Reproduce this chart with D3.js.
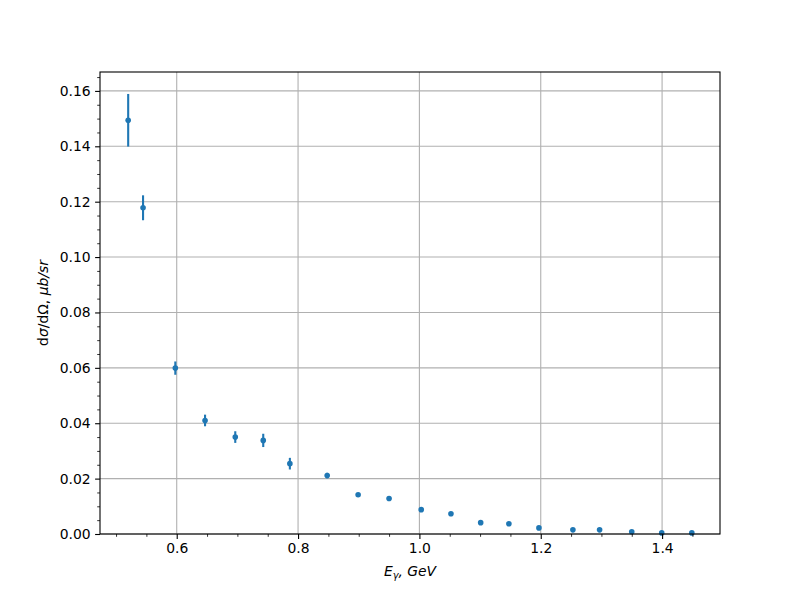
<!DOCTYPE html>
<html>
<head>
<meta charset="utf-8">
<script src="https://cdn.jsdelivr.net/npm/d3@7"></script>
<style>
  html, body { margin: 0; padding: 0; background: #fff; }
  text { font-family: "DejaVu Sans", sans-serif; }
</style>
</head>
<body>
<svg id="chart" width="800" height="600"></svg>
<script>
// Data
const energies = [0.520, 0.5445, 0.5977, 0.6467, 0.6965, 0.7426, 0.7865, 0.848, 0.899, 0.950,
                  1.003, 1.052, 1.101, 1.1475, 1.197, 1.253, 1.297, 1.350, 1.3994, 1.449];
const crossSections = [0.1494, 0.1178, 0.0599, 0.0410, 0.0350, 0.0338, 0.0254, 0.0211, 0.0142, 0.0128,
                       0.0088, 0.0073, 0.0041, 0.0037, 0.0022, 0.0015, 0.0015, 0.0008, 0.0004, 0.0004];
const errors = [0.0095, 0.0045, 0.0024, 0.0021, 0.0021, 0.0024, 0.0021, 0.0010, 0.0006, 0.0005,
                0.0005, 0.0004, 0.0003, 0.0003, 0.0002, 0.0002, 0.0002, 0.0001, 0.0001, 0.0001];
const xTicks = [0.6, 0.8, 1.0, 1.2, 1.4];
const xTickLabels = ["0.6", "0.8", "1.0", "1.2", "1.4"];
const yTicks = [0.00, 0.02, 0.04, 0.06, 0.08, 0.10, 0.12, 0.14, 0.16];
const yTickLabels = ["0.00", "0.02", "0.04", "0.06", "0.08", "0.10", "0.12", "0.14", "0.16"];

const data = energies.map((e, i) => ({x: e, y: crossSections[i], err: errors[i]}));

const svg = d3.select("#chart");
const L = 100, R = 720, T = 72, B = 534;
const color = "#1f77b4";

const xMin = d3.min(energies), xMax = d3.max(energies);
const xPad = (xMax - xMin) * 0.05;
const x = d3.scaleLinear().domain([xMin - xPad, xMax + xPad]).range([L, R]);
const yTop = d3.max(data, d => d.y + d.err);
const yBot = d3.min(data, d => d.y - d.err);
const y = d3.scaleLinear().domain([0, yTop + (yTop - yBot) * 0.05]).range([B, T]);

// grid
const grid = svg.append("g");
grid.selectAll("line.gx").data(xTicks).enter().append("line")
  .attr("x1", d => x(d)).attr("x2", d => x(d)).attr("y1", T).attr("y2", B)
  .attr("stroke", "#b0b0b0").attr("stroke-width", 1.1);
grid.selectAll("line.gy").data(yTicks).enter().append("line")
  .attr("x1", L).attr("x2", R).attr("y1", d => y(d)).attr("y2", d => y(d))
  .attr("stroke", "#b0b0b0").attr("stroke-width", 1.1);

// error bars
svg.append("g").selectAll("line").data(data).enter().append("line")
  .attr("x1", d => x(d.x)).attr("x2", d => x(d.x))
  .attr("y1", d => y(d.y - d.err)).attr("y2", d => y(d.y + d.err))
  .attr("stroke", color).attr("stroke-width", 2.1);

// points
svg.append("g").selectAll("circle").data(data).enter().append("circle")
  .attr("cx", d => x(d.x)).attr("cy", d => y(d.y)).attr("r", 2.8)
  .attr("fill", color);

// axes
const xMinor = d3.range(0.5, 1.5, 0.05).filter(v => xTicks.every(t => Math.abs(t - v) > 1e-6));
const yMinor = d3.range(0, 0.1675, 0.005).filter(v => yTicks.every(t => Math.abs(t - v) > 1e-6));

const xAxis = d3.axisBottom(x).tickValues(xTicks).tickFormat((d, i) => xTickLabels[i])
  .tickSizeInner(4.9).tickSizeOuter(0).tickPadding(4.5);
const gx = svg.append("g").attr("transform", `translate(0,${B})`).call(xAxis);
gx.select(".domain").remove();
gx.selectAll("text").attr("font-size", 13.9).attr("fill", "#000").attr("font-family", "DejaVu Sans");
gx.selectAll("line").attr("stroke", "#000").attr("stroke-width", 1.1);
const gxm = svg.append("g").attr("transform", `translate(0,${B})`)
  .call(d3.axisBottom(x).tickValues(xMinor).tickFormat("").tickSizeInner(2.8).tickSizeOuter(0));
gxm.select(".domain").remove();
gxm.selectAll("line").attr("stroke", "#000").attr("stroke-width", 0.8);

const yAxis = d3.axisLeft(y).tickValues(yTicks).tickFormat((d, i) => yTickLabels[i])
  .tickSizeInner(4.9).tickSizeOuter(0).tickPadding(4.5);
const gy = svg.append("g").attr("transform", `translate(${L},0)`).call(yAxis);
gy.select(".domain").remove();
gy.selectAll("text").attr("font-size", 13.9).attr("fill", "#000").attr("font-family", "DejaVu Sans");
gy.selectAll("line").attr("stroke", "#000").attr("stroke-width", 1.1);
const gym = svg.append("g").attr("transform", `translate(${L},0)`)
  .call(d3.axisLeft(y).tickValues(yMinor).tickFormat("").tickSizeInner(2.8).tickSizeOuter(0));
gym.select(".domain").remove();
gym.selectAll("line").attr("stroke", "#000").attr("stroke-width", 0.8);

// frame
svg.append("rect").attr("x", L).attr("y", T).attr("width", R - L).attr("height", B - T)
  .attr("fill", "none").attr("stroke", "#000").attr("stroke-width", 1.1);

// x label
const xl = svg.append("text").attr("x", (L + R) / 2).attr("y", 576)
  .attr("text-anchor", "middle").attr("font-size", 13.9).attr("fill", "#000");
xl.append("tspan").attr("font-style", "italic").text("E");
xl.append("tspan").attr("font-style", "italic").attr("font-size", 9.8).attr("dy", 2.5).text("γ");
xl.append("tspan").attr("dy", -2.5).attr("font-style", "italic").text(", GeV");

// y label
const yl = svg.append("text").attr("transform", `translate(48,${(T + B) / 2}) rotate(-90)`)
  .attr("text-anchor", "middle").attr("font-size", 13.9).attr("fill", "#000");
yl.append("tspan").text("d");
yl.append("tspan").attr("font-style", "italic").text("σ");
yl.append("tspan").text("/dΩ, ");
yl.append("tspan").attr("font-style", "italic").text("μb/sr");
</script>
</body>
</html>
